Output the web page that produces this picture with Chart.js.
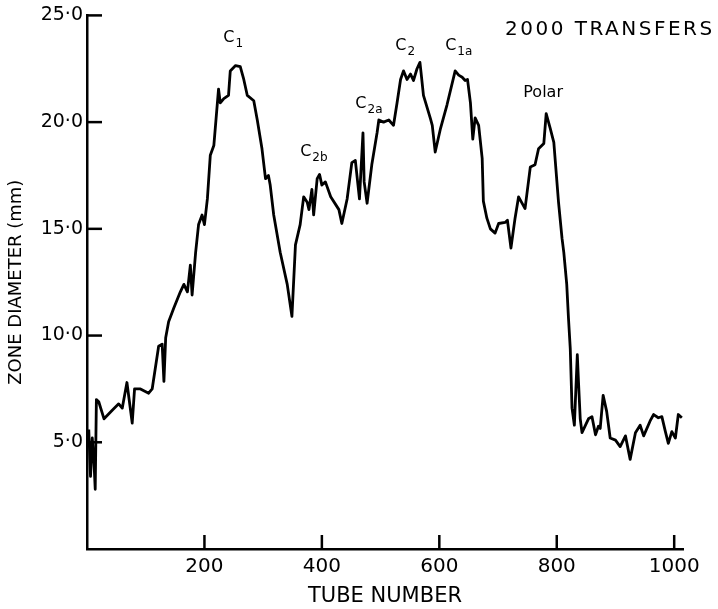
<!DOCTYPE html>
<html><head><meta charset="utf-8">
<script src="https://cdn.jsdelivr.net/npm/chart.js@4/dist/chart.umd.min.js"></script>
<style>html,body{margin:0;padding:0;background:#fff;}#wrap{width:718px;height:609px;}</style>
</head><body><div id="wrap"><canvas id="c" width="718" height="609"></canvas></div>
<script>
const tubeNumbers = [3,6,9,12,14,16,20,29,43,54,60,
68,77,81,91,105,111,122,128,131,134,
139,148,159,165,171,176,179,185,190,196,
200,205,210,216,224,227,233,241,244,253,
261,267,273,284,290,298,304,309,312,318,
329,341,349,355,363,369,375,378,383,386,
392,396,400,406,415,429,434,443,451,457,
464,470,472,477,485,494,497,505,514,522,
528,534,539,545,551,556,562,567,569,573,
585,588,593,602,613,627,633,639,644,648,
653,657,661,667,673,675,681,687,695,701,
712,716,722,729,735,746,755,763,769,778,
782,789,795,803,809,812,817,820,823,826,
830,835,837,840,843,849,854,860,866,871,
874,879,885,891,900,908,917,925,934,942,
948,959,965,973,979,985,990,996,1002,1007,
1013];
const zoneDiameters = [5.6,3.4,5.2,4.0,2.8,7.0,6.9,6.1,6.5,6.8,6.6,
7.8,5.9,7.5,7.5,7.3,7.5,9.5,9.6,7.85,9.9,
10.65,11.3,12.05,12.4,12.05,13.3,11.9,13.9,15.2,15.65,
15.2,16.4,18.45,18.9,21.55,20.9,21.1,21.25,22.4,22.65,
22.6,22.0,21.25,21.0,20.1,18.75,17.35,17.5,17.05,15.65,
13.9,12.4,10.9,14.25,15.2,16.5,16.25,15.9,16.85,15.65,
17.35,17.55,17.05,17.2,16.5,15.9,15.25,16.4,18.1,18.2,
16.4,19.5,17.2,16.2,18.0,19.5,20.1,20.0,20.1,19.85,
20.9,22.0,22.4,22.0,22.25,21.95,22.5,22.8,22.3,21.25,
20.15,19.85,18.6,19.7,20.8,22.4,22.2,22.1,21.95,22.0,
20.9,19.2,20.2,19.85,18.3,16.3,15.5,15.0,14.8,15.25,
15.3,15.4,14.1,15.5,16.5,15.95,17.9,18.0,18.75,19.0,
20.4,19.7,19.05,16.25,14.55,13.9,12.4,10.8,9.4,6.6,
5.8,9.1,7.85,6.1,5.45,5.8,6.1,6.2,5.35,5.75,
5.65,7.2,6.45,5.2,5.1,4.8,5.3,4.2,5.45,5.8,
5.3,6.0,6.3,6.15,6.2,5.5,4.95,5.5,5.2,6.3,
6.15];
const xTickValues = [200,400,600,800,1000];
const xTickLabels = ['200','400','600','800','1000'];
const yTickValues = [5,10,15,20,25];
const yTickLabels = ['5·0','10·0','15·0','20·0','25·0'];
const peakLabels = [
  {main:'C', sub:'1', tube:232, diameter:23.74},
  {main:'C', sub:'2b', tube:363, diameter:18.4},
  {main:'C', sub:'2a', tube:457, diameter:20.65},
  {main:'C', sub:'2', tube:525, diameter:23.36},
  {main:'C', sub:'1a', tube:610, diameter:23.36},
  {main:'Polar', sub:'', tube:743, diameter:21.16}
];
const chartTitle = '2000 TRANSFERS';
const xTitle = 'TUBE NUMBER';
const yTitle = 'ZONE DIAMETER (mm)';

const FONT = 'DejaVu Sans';
const INK = '#000';

const decorPlugin = {
  id: 'decor',
  afterDraw(chart) {
    const ctx = chart.ctx, xs = chart.scales.x, ys = chart.scales.y, a = chart.chartArea;
    ctx.save();
    ctx.strokeStyle = INK; ctx.lineWidth = 2.5; ctx.lineCap = 'butt';
    xTickValues.forEach(v => {
      const px = xs.getPixelForValue(v);
      ctx.beginPath(); ctx.moveTo(px, a.bottom); ctx.lineTo(px, a.bottom - 14); ctx.stroke();
    });
    yTickValues.forEach(v => {
      const py = ys.getPixelForValue(v);
      ctx.beginPath(); ctx.moveTo(a.left, py); ctx.lineTo(a.left + 15, py); ctx.stroke();
    });
    ctx.fillStyle = INK;
    ctx.textBaseline = 'alphabetic'; ctx.textAlign = 'left';
    peakLabels.forEach(l => {
      const px = xs.getPixelForValue(l.tube), py = ys.getPixelForValue(l.diameter);
      ctx.font = '16px "' + FONT + '"';
      ctx.fillText(l.main, px, py);
      if (l.sub) {
        const w = ctx.measureText(l.main).width;
        ctx.font = '12px "' + FONT + '"';
        ctx.fillText(l.sub, px + w + 1, py + 5);
      }
    });
    ctx.font = '20px "' + FONT + '"';
    ctx.letterSpacing = '2.5px';
    ctx.fillText(chartTitle, 505, 35);
    ctx.restore();
  }
};

new Chart(document.getElementById('c'), {
  type: 'line',
  data: {
    datasets: [{
      data: tubeNumbers.map((t, i) => ({x: t, y: zoneDiameters[i]})),
      borderColor: INK, borderWidth: 2.8, pointRadius: 0, tension: 0, fill: false,
      borderJoinStyle: 'round'
    }]
  },
  options: {
    responsive: false, animation: false, devicePixelRatio: 1,
    layout: {padding: {top: 15, right: 35, left: 0, bottom: 0}},
    plugins: {legend: {display: false}, tooltip: {enabled: false}},
    scales: {
      x: {
        type: 'linear', min: 0, max: 1015,
        afterBuildTicks: s => { s.ticks = xTickValues.map(v => ({value: v})); },
        afterFit: s => { s.height = 60; },
        ticks: {
          callback: v => { const i = xTickValues.indexOf(v); return i >= 0 ? xTickLabels[i] : ''; },
          color: INK, font: {family: FONT, size: 20}, padding: 6, maxRotation: 0, autoSkip: false
        },
        grid: {display: false, drawTicks: false},
        border: {display: true, color: INK, width: 2.5},
        title: {display: true, text: xTitle, color: INK, font: {family: FONT, size: 21}, padding: {top: 0, bottom: 0}}
      },
      y: {
        type: 'linear', min: 0, max: 25,
        afterBuildTicks: s => { s.ticks = yTickValues.map(v => ({value: v})); },
        afterFit: s => { s.width = 87; },
        ticks: {
          callback: v => { const i = yTickValues.indexOf(v); return i >= 0 ? yTickLabels[i] : ''; },
          color: INK, font: {family: FONT, size: 19}, padding: 4, autoSkip: false
        },
        grid: {display: false, drawTicks: false},
        border: {display: true, color: INK, width: 2.5},
        title: {display: true, text: yTitle, color: INK, font: {family: FONT, size: 18}, padding: {top: 6, bottom: 0}}
      }
    }
  },
  plugins: [decorPlugin]
});
</script>
</body></html>
